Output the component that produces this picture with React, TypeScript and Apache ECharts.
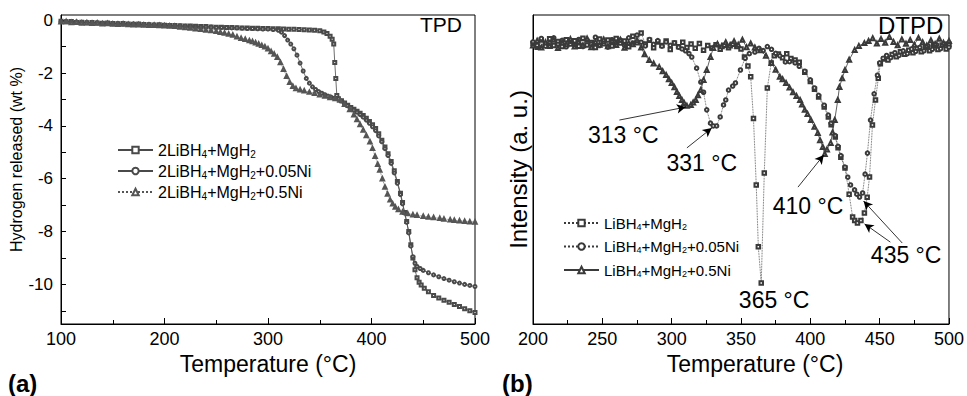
import React, { useEffect, useRef } from 'react';
import * as echarts from 'echarts';

const FONT = '"Liberation Sans", Arial, Helvetica, sans-serif';

// ---------- (a) TPD ----------
const tpdNames = ['2LiBH4+MgH2', '2LiBH4+MgH2+0.05Ni', '2LiBH4+MgH2+0.5Ni'];
const tpdYLabelValues = [0, -2, -4, -6, -8, -10];
const tpdYTickValues = [0, -1, -2, -3, -4, -5, -6, -7, -8, -9, -10, -11];

const tpdPure: number[][] = [
  [100, -0.04], [105, -0.06], [110, -0.05], [115, -0.08], [120, -0.07], [125, -0.09], [130, -0.08], [135, -0.1],
  [140, -0.11], [145, -0.1], [150, -0.12], [155, -0.13], [160, -0.12], [165, -0.14], [170, -0.15], [175, -0.14],
  [180, -0.16], [185, -0.17], [190, -0.18], [195, -0.17], [200, -0.19], [205, -0.2], [210, -0.2], [215, -0.21],
  [220, -0.22], [225, -0.22], [230, -0.23], [235, -0.24], [240, -0.24], [245, -0.25], [250, -0.26], [255, -0.26],
  [260, -0.27], [265, -0.27], [270, -0.28], [275, -0.29], [280, -0.29], [285, -0.3], [290, -0.3], [295, -0.31],
  [300, -0.31], [305, -0.32], [310, -0.32], [315, -0.33], [320, -0.34], [325, -0.34], [330, -0.35], [335, -0.36],
  [340, -0.37], [345, -0.38], [350, -0.4], [354, -0.44], [357, -0.5], [360, -0.6], [362, -0.72], [363.5, -0.9],
  [364.5, -1.6], [365.5, -2.2], [366.5, -2.85], [368, -2.97], [371, -3.05], [374, -3.13], [377, -3.22], [380, -3.3],
  [383, -3.37], [386, -3.44], [389, -3.52], [392, -3.61], [395, -3.71], [398, -3.83], [401, -3.96], [404, -4.1],
  [407, -4.3], [410, -4.54], [413, -4.8], [416, -5.05], [419, -5.35], [422, -5.7], [425, -6.1], [428, -6.55],
  [430, -6.9], [432, -7.28], [434, -7.62], [436, -8.0], [438, -8.5], [440, -9.0], [442, -9.45], [444, -9.75],
  [446, -9.92], [448, -10.02], [451, -10.15], [455, -10.28], [460, -10.42], [465, -10.52], [470, -10.6],
  [475, -10.68], [480, -10.76], [485, -10.84], [490, -10.92], [495, -11.0], [500, -11.06],
];

const tpdNi005: number[][] = [
  [100, -0.05], [105, -0.04], [110, -0.07], [115, -0.06], [120, -0.09], [125, -0.08], [130, -0.1], [135, -0.09],
  [140, -0.12], [145, -0.11], [150, -0.13], [155, -0.12], [160, -0.14], [165, -0.15], [170, -0.14], [175, -0.16],
  [180, -0.17], [185, -0.16], [190, -0.18], [195, -0.19], [200, -0.2], [205, -0.21], [210, -0.21], [215, -0.22],
  [220, -0.23], [225, -0.23], [230, -0.24], [235, -0.25], [240, -0.25], [245, -0.26], [250, -0.27], [255, -0.27],
  [260, -0.28], [265, -0.29], [270, -0.29], [275, -0.3], [280, -0.31], [285, -0.31], [290, -0.32], [295, -0.33],
  [300, -0.33], [305, -0.35], [310, -0.38], [313, -0.45], [316, -0.58], [319, -0.75], [322, -0.9], [325, -1.08],
  [328, -1.32], [331, -1.62], [334, -1.92], [337, -2.2], [340, -2.38], [343, -2.52], [346, -2.62], [349, -2.7],
  [352, -2.76], [355, -2.82], [358, -2.87], [361, -2.91], [364, -2.95], [368, -2.98], [371, -3.06], [374, -3.15],
  [377, -3.24], [380, -3.32], [383, -3.4], [386, -3.48], [389, -3.57], [392, -3.67], [395, -3.78], [398, -3.9],
  [401, -4.03], [404, -4.18], [407, -4.38], [410, -4.6], [413, -4.86], [416, -5.12], [419, -5.42], [422, -5.78],
  [425, -6.17], [428, -6.6], [430, -6.95], [432, -7.3], [434, -7.65], [436, -8.05], [438, -8.55], [440, -8.95],
  [442, -9.2], [444, -9.32], [447, -9.4], [450, -9.47], [455, -9.56], [460, -9.64], [465, -9.71], [470, -9.78],
  [475, -9.84], [480, -9.9], [485, -9.95], [490, -10.0], [495, -10.04], [500, -10.08],
];

const tpdNi05: number[][] = [
  [100, -0.06], [105, -0.05], [110, -0.08], [115, -0.07], [120, -0.1], [125, -0.09], [130, -0.11], [135, -0.1],
  [140, -0.13], [145, -0.12], [150, -0.14], [155, -0.15], [160, -0.14], [165, -0.16], [170, -0.17], [175, -0.17],
  [180, -0.18], [185, -0.19], [190, -0.19], [195, -0.2], [200, -0.21], [205, -0.22], [210, -0.23], [215, -0.25],
  [220, -0.27], [225, -0.29], [230, -0.32], [235, -0.34], [240, -0.37], [245, -0.39], [250, -0.42], [254, -0.45],
  [258, -0.48], [262, -0.52], [266, -0.56], [270, -0.62], [274, -0.68], [278, -0.72], [282, -0.77], [285, -0.8],
  [288, -0.85], [291, -0.9], [294, -0.95], [297, -1.0], [300, -1.08], [303, -1.18], [306, -1.28], [309, -1.4],
  [312, -1.6], [315, -1.85], [318, -2.12], [321, -2.35], [324, -2.5], [327, -2.58], [331, -2.63], [335, -2.67],
  [340, -2.72], [345, -2.76], [350, -2.82], [355, -2.87], [360, -2.92], [365, -2.96], [369.5, -3.02], [374, -3.18],
  [379, -3.38], [383, -3.58], [386, -3.76], [389, -3.95], [392, -4.15], [395, -4.36], [398.5, -4.6], [401, -4.85],
  [403.5, -5.15], [406, -5.45], [408, -5.67], [410.5, -6.0], [413, -6.31], [415.5, -6.58], [418, -6.8],
  [420.5, -6.95], [423, -7.07], [426, -7.16], [430, -7.26], [435, -7.32], [440, -7.36], [444, -7.38], [450, -7.42],
  [455, -7.45], [460, -7.47], [466, -7.5], [470, -7.52], [476, -7.55], [480, -7.57], [485, -7.59], [490, -7.61],
  [495, -7.63], [500, -7.64],
];

// ---------- (b) DTPD ----------
const dtpdNames = ['LiBH4+MgH2', 'LiBH4+MgH2+0.05Ni', 'LiBH4+MgH2+0.5Ni'];

const dtpdPure: number[][] = [
  [200, 90.8], [203, 89.6], [206, 91.9], [209, 90.4], [212, 92.3], [215, 90.1], [218, 91.4], [221, 89.8],
  [224, 92.0], [227, 90.6], [230, 91.7], [233, 89.9], [236, 92.5], [239, 90.3], [242, 91.1], [245, 89.5],
  [248, 92.2], [251, 90.7], [254, 91.9], [257, 90.0], [260, 92.4], [263, 90.9], [266, 91.6], [269, 89.7],
  [272, 93.1], [275, 91.0], [278, 94.2], [281, 90.6], [284, 91.8], [287, 89.4], [290, 91.3], [293, 90.1],
  [296, 91.6], [299, 88.8], [302, 90.9], [305, 89.7], [308, 91.2], [311, 89.5], [314, 90.6], [317, 89.2],
  [320, 90.8], [323, 88.6], [326, 90.1], [329, 89.3], [332, 90.4], [335, 88.9], [338, 90.2], [341, 89.4],
  [344, 90.5], [347, 89.8], [350, 89.0], [352.5, 86.4], [355, 83.5], [357, 80.0], [359, 66.5], [361, 45.0],
  [362.5, 25.0], [364.6, 13.3], [366.8, 48.9], [369, 76.4], [371.8, 84.5], [374, 86.8], [377, 87.4], [380, 86.2],
  [383, 87.5], [386, 85.9], [389, 85.4], [392, 84.7], [396, 81.5], [400, 78.5], [403, 76.0], [406, 73.5],
  [410, 70.2], [413, 67.0], [415, 64.5], [418, 60.5], [420, 57.0], [422, 54.0], [425, 50.5], [428, 42.0],
  [430.5, 34.6], [432, 33.5], [434, 32.7], [436.5, 33.5], [439, 35.9], [441, 41.0], [442.7, 47.6], [444.8, 64.4],
  [447, 72.5], [449, 79.5], [450.5, 84.2], [453, 85.8], [456, 85.4], [459, 87.2], [462, 86.5], [465, 88.1],
  [468, 87.3], [471, 88.6], [474, 87.8], [477, 89.2], [480, 88.1], [483, 89.6], [486, 88.4], [489, 90.1],
  [492, 88.8], [495, 90.3], [498, 89.0], [500, 90.5],
];

const dtpdNi005: number[][] = [
  [200, 91.3], [203, 90.2], [206, 92.4], [209, 89.9], [212, 91.0], [215, 92.6], [218, 90.5], [221, 91.8],
  [224, 89.7], [227, 91.5], [230, 90.3], [233, 92.1], [236, 89.8], [239, 91.9], [242, 90.6], [245, 92.8],
  [248, 90.1], [251, 91.4], [254, 89.6], [257, 92.0], [260, 90.8], [263, 91.9], [266, 90.2], [269, 92.6],
  [272, 90.9], [275, 93.5], [278, 91.2], [281, 90.0], [284, 92.1], [287, 90.5], [290, 91.7], [293, 89.9],
  [296, 91.3], [299, 90.2], [302, 91.0], [305, 89.6], [307.5, 89.0], [310, 88.4], [312.5, 87.5], [314.5, 86.4],
  [318, 82.8], [321, 78.3], [323, 75.0], [325.3, 69.3], [328, 65.0], [330, 64.1], [332.4, 64.1], [335, 67.0],
  [337.4, 70.9], [339, 72.5], [341, 75.7], [344, 77.0], [346, 78.0], [349.6, 82.2], [353, 86.0], [356, 87.5],
  [360, 88.0], [363, 89.2], [366, 88.5], [369, 89.8], [372, 88.9], [375, 87.6], [378, 86.8], [382, 84.8],
  [385, 84.9], [389, 84.5], [392, 83.4], [396, 81.8], [400, 79.0], [403, 76.4], [406, 74.0], [410, 70.8],
  [413, 67.6], [415, 65.0], [418, 61.0], [420, 57.5], [422, 54.5], [425, 50.8], [427, 47.5], [429, 45.0],
  [431.9, 43.4], [433.5, 42.0], [435.5, 41.1], [437.7, 42.4], [439.5, 48.5], [441.2, 55.3], [443.4, 66.0],
  [446, 74.5], [448.4, 80.5], [450, 84.5], [452.5, 86.0], [455, 86.9], [458, 86.2], [461, 87.8], [464, 86.9],
  [467, 88.4], [470, 87.5], [473, 89.0], [476, 88.2], [479, 89.5], [482, 88.4], [485, 90.0], [488, 88.9],
  [491, 90.4], [494, 89.1], [497, 90.6], [500, 89.6],
];

const dtpdNi05: number[][] = [
  [200, 90.1], [203, 91.7], [206, 89.5], [209, 91.2], [212, 90.0], [215, 92.0], [218, 89.3], [221, 91.1],
  [224, 90.5], [227, 92.2], [230, 89.8], [233, 91.4], [236, 90.2], [239, 92.4], [242, 89.6], [245, 91.3],
  [248, 90.4], [251, 92.1], [254, 89.9], [257, 91.6], [260, 90.3], [263, 92.0], [266, 89.4], [269, 90.9],
  [272, 90.5], [275, 91.8], [278, 89.5], [280.5, 87.3], [283.8, 85.4], [287, 84.3], [291, 83.2], [293.5, 81.8],
  [296, 80.6], [298, 79.2], [300, 78.0], [302, 76.6], [303.8, 75.1], [305.5, 73.8], [307.4, 72.5], [309, 71.5],
  [311, 70.6], [313.8, 70.9], [315.5, 71.7], [317.4, 72.5], [319, 74.0], [321, 75.7], [323, 79.0], [325.3, 82.2],
  [328, 86.4], [330, 89.3], [333, 90.6], [336, 89.9], [339, 91.2], [342, 90.1], [345, 91.5], [348, 90.4],
  [351, 92.0], [354, 89.6], [357, 90.8], [360, 89.5], [364, 88.6], [368, 86.8], [372, 84.5], [375, 82.3],
  [378, 80.0], [380, 79.2], [382.5, 78.0], [385, 76.5], [387.5, 75.0], [390, 73.8], [392.6, 72.5], [394, 71.0],
  [396, 69.3], [398, 68.0], [400.4, 66.0], [403, 63.8], [405.4, 61.8], [407, 59.5], [409, 57.3], [410.4, 55.0],
  [412, 56.5], [414.7, 58.6], [416, 62.0], [417.6, 66.0], [419.8, 72.5], [421, 76.7], [423, 79.5], [425, 82.2],
  [428, 85.5], [432, 88.7], [435, 90.0], [439, 90.9], [442, 91.6], [445, 92.5], [448, 90.8], [451, 92.2],
  [454, 91.0], [457, 92.9], [460, 91.3], [463, 90.2], [466, 92.1], [469, 90.7], [472, 91.9], [475, 90.4],
  [478, 92.6], [481, 91.2], [484, 90.1], [487, 91.8], [490, 90.6], [493, 92.3], [496, 91.0], [500, 91.6],
];

// peak annotations (label anchor in data coordinates)
const peakLabels = [
  { text: '313 °C', at: [265.1, 61.2] },
  { text: '331 °C', at: [321.7, 52.1] },
  { text: '410 °C', at: [398.3, 38.2] },
  { text: '365 °C', at: [373.9, 7.8] },
  { text: '435 °C', at: [469.1, 22.3] },
];
const peakArrows = [
  [[262.3, 66.0], [310.2, 70.2]],
  [[311.0, 57.0], [328.9, 63.4]],
  [[391.1, 44.3], [409.7, 54.7]],
  [[466.3, 26.2], [438.4, 39.8]],
  [[457.7, 26.5], [439.1, 32.4]],
];

// "2LiBH4+MgH2+0.05Ni" -> rich text with subscripts
const fmtName = (name: string) => {
  const [a, rest] = name.split('BH4');
  const [b, c] = rest.split('MgH2');
  return `{m|${a}BH}{s|4}{m|${b}MgH}{s|2}` + (c ? `{m|${c}}` : '');
};

const lineSeries = (
  name: string,
  data: number[][],
  idx: number,
  symbol: string,
  dotted: boolean,
  size: number,
  color: string,
) => ({
  type: 'line',
  name,
  data,
  xAxisIndex: idx,
  yAxisIndex: idx,
  symbol,
  symbolSize: size,
  showSymbol: true,
  showAllSymbol: true,
  silent: true,
  lineStyle: { color, width: 0.8, type: dotted ? 'dotted' : 'solid' },
  itemStyle: { color, borderWidth: 0.6 },
  emphasis: { disabled: true },
});

export default function App() {
  const ref = useRef<HTMLDivElement>(null);

  useEffect(() => {
    document.body.style.margin = '0';
    if (!ref.current) return;
    const chart = echarts.init(ref.current, undefined, { renderer: 'svg' });

    const axisCommon = {
      axisLine: { show: true, onZero: false, lineStyle: { color: '#000', width: 1 } },
      splitLine: { show: false },
    };

    const s0 = lineSeries(tpdNames[0], tpdPure, 0, 'emptyRect', false, 3, '#4a4a4a');
    const s1 = lineSeries(tpdNames[1], tpdNi005, 0, 'emptyCircle', false, 3, '#4a4a4a');
    const s2 = lineSeries(tpdNames[2], tpdNi05, 0, 'emptyTriangle', true, 3.5, '#555');
    const d0 = lineSeries(dtpdNames[0], dtpdPure, 1, 'emptyRect', true, 3.5, '#3a3a3a');
    const d1 = lineSeries(dtpdNames[1], dtpdNi005, 1, 'emptyCircle', true, 3.5, '#3a3a3a');
    const d2: any = lineSeries(dtpdNames[2], dtpdNi05, 1, 'emptyTriangle', false, 4, '#3a3a3a');
    d2.markLine = {
      silent: true,
      symbol: ['none', 'arrow'],
      symbolSize: [7, 9],
      label: { show: false },
      lineStyle: { color: '#000', width: 0.8, type: 'solid' },
      data: peakArrows.map(([a, b]) => [{ coord: a }, { coord: b }]),
    };
    d2.markPoint = {
      silent: true,
      symbol: 'circle',
      symbolSize: 0,
      label: {
        show: true,
        position: 'inside',
        formatter: '{b}',
        color: '#000',
        fontSize: 23,
        fontFamily: FONT,
      },
      data: peakLabels.map((p) => ({ name: p.text, coord: p.at })),
    };

    const legendText = (size: number, lh: number, subSize: number, pad: number) => ({
      fontSize: size,
      fontFamily: FONT,
      color: '#000',
      rich: {
        m: { fontSize: size, lineHeight: lh, fontFamily: FONT, color: '#000' },
        s: { fontSize: subSize, lineHeight: 8, fontFamily: FONT, color: '#000', padding: [pad, 0, 0, 0] },
      },
    });

    chart.setOption({
      animation: false,
      backgroundColor: '#fff',
      textStyle: { fontFamily: FONT },
      grid: [
        { left: 61, top: 15, width: 414, height: 309, show: true, borderColor: '#000', borderWidth: 1 },
        { left: 533, top: 15, width: 419, height: 309, show: true, borderColor: '#000', borderWidth: 1 },
      ],
      xAxis: [
        {
          ...axisCommon,
          gridIndex: 0,
          type: 'value',
          min: 100,
          max: 500,
          interval: 100,
          axisTick: { show: true, inside: true, length: 6, lineStyle: { color: '#000' } },
          minorTick: { show: true, splitNumber: 2, length: 4, lineStyle: { color: '#000' } },
          axisLabel: { color: '#000', fontSize: 18, margin: 6, fontFamily: FONT },
          name: 'Temperature (°C)',
          nameLocation: 'middle',
          nameGap: 21,
          nameTextStyle: { color: '#000', fontSize: 23, fontFamily: FONT },
        },
        {
          ...axisCommon,
          gridIndex: 1,
          type: 'value',
          min: 200,
          max: 500,
          interval: 50,
          axisTick: { show: true, inside: true, length: 6, lineStyle: { color: '#000' } },
          minorTick: { show: true, splitNumber: 2, length: 4, lineStyle: { color: '#000' } },
          axisLabel: { color: '#000', fontSize: 18, margin: 6, fontFamily: FONT },
          name: 'Temperature (°C)',
          nameLocation: 'middle',
          nameGap: 21,
          nameTextStyle: { color: '#000', fontSize: 23, fontFamily: FONT, padding: [0, 0, 0, 28] },
        },
      ],
      yAxis: [
        {
          ...axisCommon,
          gridIndex: 0,
          type: 'value',
          min: -11.5,
          max: 0.2,
          axisTick: {
            show: true,
            inside: true,
            length: 5,
            customValues: tpdYTickValues,
            lineStyle: { color: '#000' },
          },
          axisLabel: {
            color: '#000',
            fontSize: 17,
            margin: 8,
            fontFamily: FONT,
            customValues: tpdYLabelValues,
          },
          name: 'Hydrogen released (wt %)',
          nameLocation: 'middle',
          nameGap: 32,
          nameTextStyle: { color: '#000', fontSize: 16, fontFamily: FONT, padding: [0, 0, 0, 20] },
        },
        {
          ...axisCommon,
          gridIndex: 1,
          type: 'value',
          min: 0,
          max: 100,
          axisTick: { show: false },
          axisLabel: { show: false },
          name: 'Intensity (a. u.)',
          nameLocation: 'middle',
          nameGap: 3,
          nameTextStyle: { color: '#000', fontSize: 24, fontFamily: FONT },
        },
      ],
      legend: [
        {
          data: tpdNames,
          orient: 'vertical',
          left: 117,
          top: 141,
          padding: 0,
          itemWidth: 35,
          itemHeight: 8,
          itemGap: 3,
          selectedMode: false,
          formatter: fmtName,
          textStyle: legendText(16, 16, 10, 8),
        },
        {
          data: dtpdNames,
          orient: 'vertical',
          left: 563,
          top: 215,
          padding: 0,
          itemWidth: 35,
          itemHeight: 8,
          itemGap: 7.5,
          selectedMode: false,
          formatter: fmtName,
          textStyle: legendText(15, 15, 9, 7),
        },
      ],
      graphic: [
        {
          type: 'text',
          left: 420,
          top: 14,
          style: { text: 'TPD', fontSize: 21, fontFamily: FONT, fill: '#000' },
        },
        {
          type: 'text',
          left: 878,
          top: 13,
          style: { text: 'DTPD', fontSize: 24, fontFamily: FONT, fill: '#000' },
        },
        {
          type: 'text',
          left: 8,
          top: 371,
          style: { text: '(a)', fontSize: 24, fontWeight: 'bold', fontFamily: FONT, fill: '#000' },
        },
        {
          type: 'text',
          left: 502,
          top: 371,
          style: { text: '(b)', fontSize: 24, fontWeight: 'bold', fontFamily: FONT, fill: '#000' },
        },
      ],
      series: [s0, s1, s2, d0, d1, d2],
    });

    return () => chart.dispose();
  }, []);

  return <div ref={ref} style={{ width: 967, height: 396 }} />;
}
